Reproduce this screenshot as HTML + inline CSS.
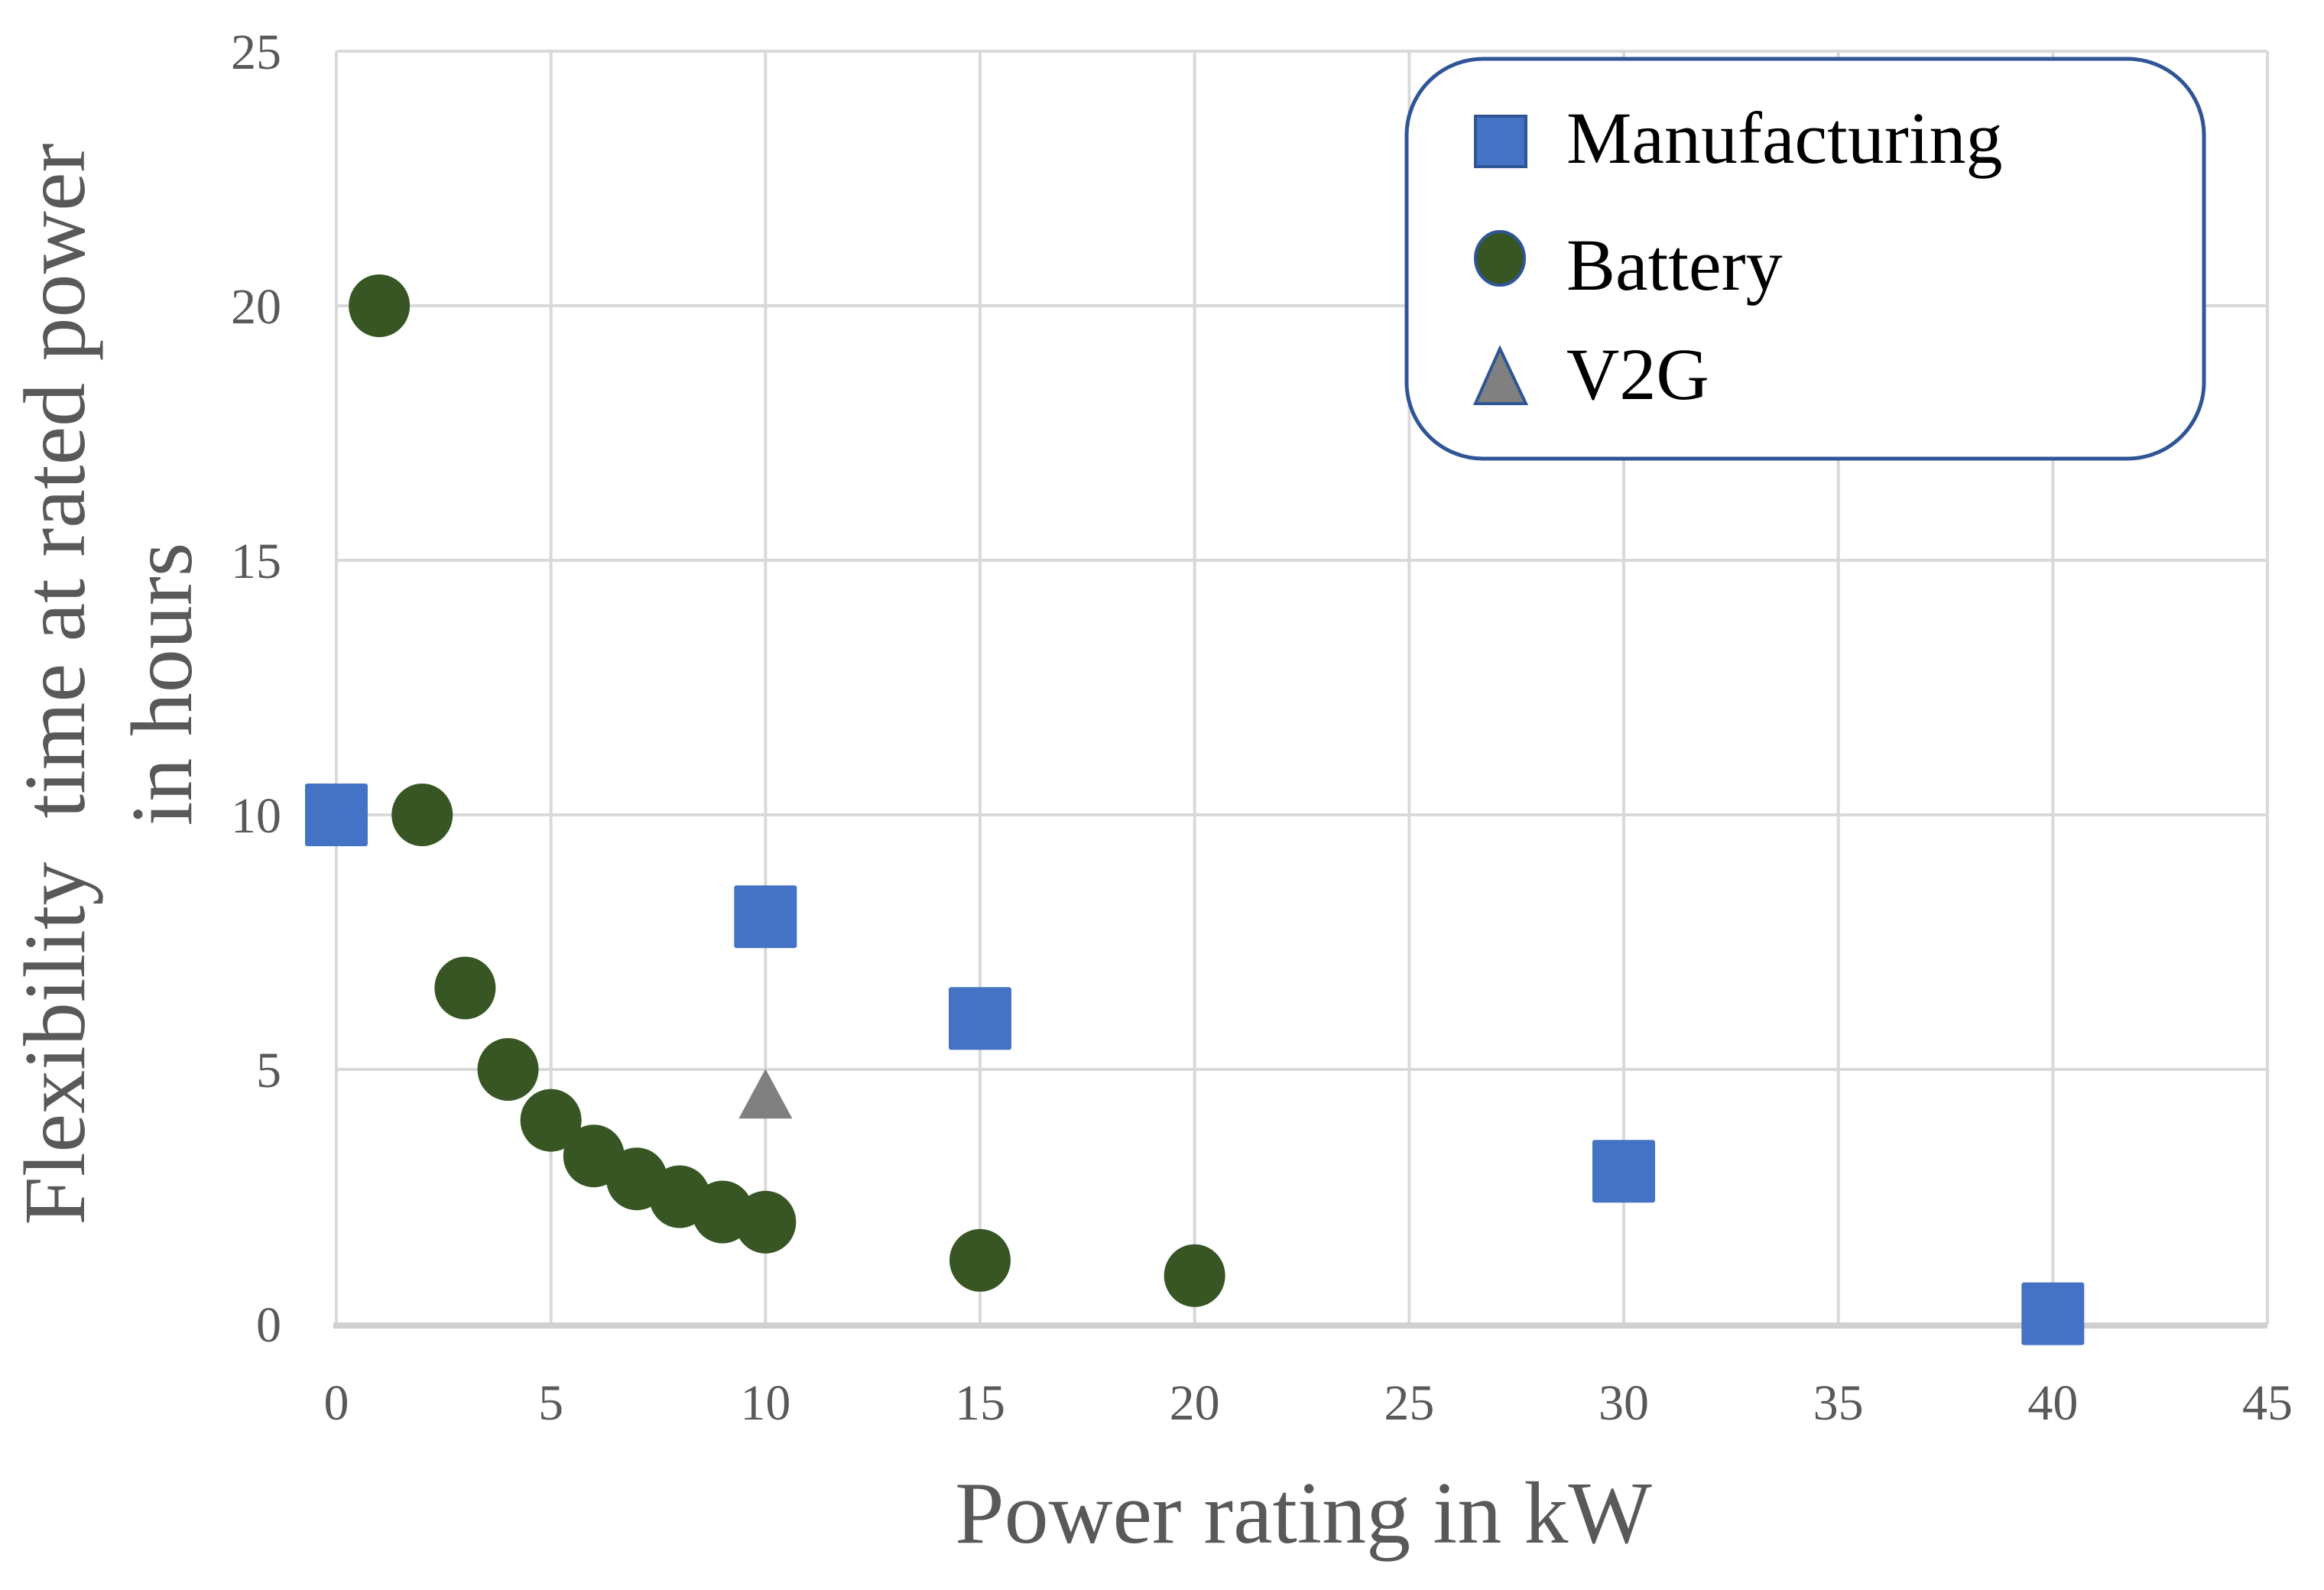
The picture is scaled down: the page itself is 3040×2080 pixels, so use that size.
<!DOCTYPE html>
<html><head><meta charset="utf-8"><style>
html,body{margin:0;padding:0;background:#fff;}
svg{display:block;}
text{font-family:"Liberation Serif",serif;}
</style></head><body>
<svg id="chart" width="3040" height="2080" viewBox="0 0 3040 2080" xmlns="http://www.w3.org/2000/svg">
<g id="grid"></g>
<g id="axes"></g>
<g id="marks"></g>
<text x="1705" y="2018" text-anchor="middle" font-size="116" fill="#595959">Power rating in kW</text>
<g font-size="114" fill="#595959">
<text transform="translate(110,895) rotate(-90)" text-anchor="middle" xml:space="preserve">Flexibility  time at rated power</text>
<text transform="translate(250,895) rotate(-90)" text-anchor="middle">in hours</text>
</g>
<g>
<rect x="1840" y="77" width="1043" height="523" rx="100" ry="100" fill="#fff" stroke="#2f5597" stroke-width="5"/>
<g>
<rect x="1930" y="152" width="66" height="66" fill="#4472c4" stroke="#2f5597" stroke-width="4"/>
<text x="2049" y="213" font-size="96" fill="#000">Manufacturing</text></g>
<g>
<ellipse cx="1962" cy="338" rx="32" ry="35" fill="#375623" stroke="#2f5597" stroke-width="4"/>
<text x="2049" y="379" font-size="96" fill="#000">Battery</text></g>
<g>
<polygon points="1962,456 1996,528 1930,528" fill="#808080" stroke="#2f5597" stroke-width="4"/>
<text x="2049" y="522" font-size="96" fill="#000">V2G</text></g>
</g>
</svg>
<script>
const xTicks=[0,5,10,15,20,25,30,35,40,45];
const yTicks=[0,5,10,15,20,25];
const manuX=[0,10,15,30,40];
const manuY=[10,8,6,3,0.2];
const batX=[1,2,3,4,5,6,7,8,9,10,15,20];
const batY=[20,10,6.6,5,4,3.3,2.85,2.5,2.2,2,1.25,0.95];
const v2gX=[10];
const v2gY=[4.5];
const NS="http://www.w3.org/2000/svg";
const X0=440,X1=2966,Y0=1732,Y1=67;
const sx=v=>X0+(X1-X0)*v/45;
const sy=v=>Y0-(Y0-Y1)*v/25;
function mk(tag,attrs,parent){const e=document.createElementNS(NS,tag);for(const k in attrs)e.setAttribute(k,attrs[k]);parent.appendChild(e);return e;}
const grid=document.getElementById('grid'),axes=document.getElementById('axes'),marks=document.getElementById('marks');
xTicks.forEach(t=>{
 const l=mk('line',{x1:sx(t),x2:sx(t),y1:Y1,y2:Y0,stroke:'#d9d9d9','stroke-width':4},grid);
 
 
 const tx=mk('text',{x:sx(t),y:1857,'text-anchor':'middle','font-size':66,fill:'#595959'},axes);
 tx.textContent=t;
 
 
});
yTicks.forEach(t=>{
 const l=mk('line',{x1:X0,x2:X1,y1:sy(t),y2:sy(t),stroke:'#d9d9d9','stroke-width':4},grid);
 
 
 const tx=mk('text',{x:368,y:sy(t)+23,'text-anchor':'end','font-size':66,fill:'#595959'},axes);
 tx.textContent=t;
 
 
});
const ax=mk('line',{x1:X0-4,x2:X1,y1:Y0+2,y2:Y0+2,stroke:'#d0d0d0','stroke-width':8},axes);


batX.forEach((x,i)=>{
 const c=mk('ellipse',{cx:sx(x),cy:sy(batY[i]),rx:40,ry:41,fill:'#375623'},marks);
 
 
});
manuX.forEach((x,i)=>{
 const r=mk('rect',{x:sx(x)-41,y:sy(manuY[i])-41,width:82,height:82,rx:3,fill:'#4472c4'},marks);
 
 
});
v2gX.forEach((x,i)=>{
 const cx=sx(x),cy=sy(v2gY[i]);
 const p=mk('polygon',{points:`${cx},${cy-34} ${cx+35},${cy+31} ${cx-35},${cy+31}`,fill:'#808080'},marks);
 
 
});
</script>
</body></html>
